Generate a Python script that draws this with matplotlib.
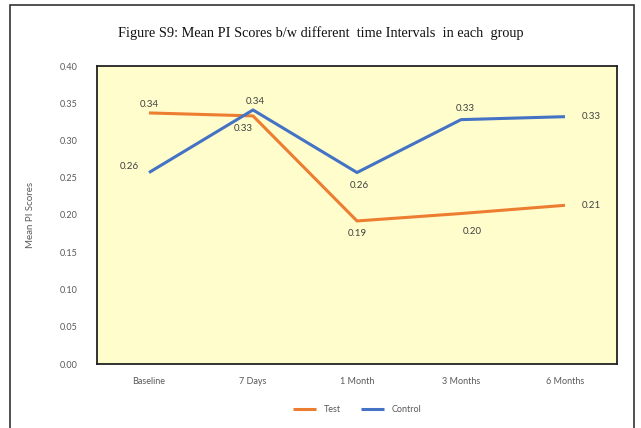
import matplotlib.pyplot as plt
from matplotlib.patches import Rectangle

intervals = ['Baseline', '7 Days', '1 Month', '3 Months', '6 Months']
test = [0.337, 0.333, 0.192, 0.202, 0.213]
control = [0.257, 0.341, 0.257, 0.328, 0.332]
yticks = [0.00, 0.05, 0.10, 0.15, 0.20, 0.25, 0.30, 0.35, 0.40]

# label offsets in points (dx, dy) for each point
test_off = [(0, 6), (-7, -9), (0, -9), (8, -13), (19, 0)]
ctrl_off = [(-14, 4), (2, 6), (2, -9), (3, 8), (19, 0)]

orange = '#ED7D31'
blue = '#4472C4'
grey = '#595959'

fig = plt.figure(figsize=(6.41, 4.28), dpi=100)
fig.patches.append(Rectangle((10 / 641, -0.01), 624 / 641, 1 - 5 / 428 + 0.01,
                             transform=fig.transFigure, fill=False,
                             edgecolor='#333333', linewidth=1.2))

ax = fig.add_axes([97 / 641, 1 - 364 / 428, 520 / 641, 298 / 428])
ax.set_facecolor('#FFFDCC')
for s in ax.spines.values():
    s.set_color('#222222')
    s.set_linewidth(1.3)

x = range(len(intervals))
ax.plot(x, test, color=orange, lw=2.2, label='Test', solid_capstyle='butt')
ax.plot(x, control, color=blue, lw=2.2, label='Control', solid_capstyle='butt')

for i in x:
    ax.annotate(f'{test[i]:.2f}', (i, test[i]), xytext=test_off[i],
                textcoords='offset points', ha='center', va='center',
                fontsize=7, color='#404040', family='Lato')
    ax.annotate(f'{control[i]:.2f}', (i, control[i]), xytext=ctrl_off[i],
                textcoords='offset points', ha='center', va='center',
                fontsize=7, color='#404040', family='Lato')

ax.set_xlim(-0.5, 4.5)
ax.set_ylim(0, 0.40)
ax.set_xticks(list(x))
ax.set_xticklabels(intervals)
ax.set_yticks(yticks)
ax.set_yticklabels([f'{v:.2f}' for v in yticks])
ax.tick_params(length=0, labelsize=6.5, labelcolor=grey, pad=9)
for lbl in ax.get_xticklabels() + ax.get_yticklabels():
    lbl.set_family('Lato')
ax.tick_params(axis='y', pad=14)

ax.set_ylabel('Mean PI Scores', fontsize=7, color=grey, family='Lato', labelpad=18)

fig.text(0.5, 1 - 33 / 428, 'Figure S9: Mean PI Scores b/w different  time Intervals  in each  group',
         ha='center', va='center', fontsize=10.3, family='Liberation Serif', color='#111111')

ax.legend(loc='upper center', bbox_to_anchor=(0.5, -0.11), ncol=2, frameon=False,
          prop={'family': 'Lato', 'size': 6.5}, handlelength=2.6, columnspacing=2.2,
          labelcolor=grey)

fig.savefig('out.png', dpi=100)
